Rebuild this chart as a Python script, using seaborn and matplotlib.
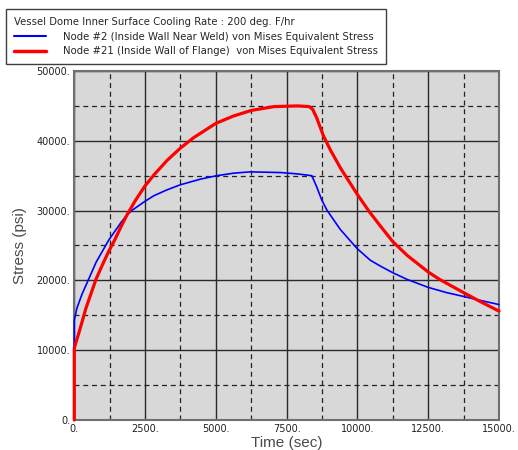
import matplotlib
matplotlib.use("Agg")
import matplotlib.pyplot as plt
from matplotlib.ticker import MultipleLocator, FuncFormatter
import seaborn as sns
import pandas as pd

# ---- data ----
title_text = "Vessel Dome Inner Surface Cooling Rate : 200 deg. F/hr"
series_names = ["Node #2 (Inside Wall Near Weld) von Mises Equivalent Stress",
                "Node #21 (Inside Wall of Flange)  von Mises Equivalent Stress"]

blue_time = [0, 0, 90, 270, 510, 770, 1220, 1650, 1871, 2060, 2492, 2809, 3278,
             3746, 4450, 5000, 5622, 6208, 7287, 7877, 8390, 8560, 8740, 8920,
             9390, 9980, 10450, 10818, 11250, 11750, 12500, 13150, 13750, 14322,
             15000]
blue_stress = [10300, 14300, 16000, 18000, 20200, 22600, 25800, 28300, 29420,
               30100, 31320, 32130, 32980, 33700, 34500, 34980, 35360, 35550,
               35450, 35260, 35000, 33420, 31520, 30090, 27320, 24600, 22900,
               22030, 21100, 20150, 19000, 18250, 17700, 17150, 16540]

red_time = [0, 0, 210, 410, 770, 1000, 1220, 1440, 1650, 1850, 2164, 2492, 2809,
            3278, 3746, 4215, 5000, 5622, 6250, 7052, 7877, 8300, 8420, 8560,
            8800, 9056, 9416, 10000, 10409, 10818, 11250, 11752, 12500, 12920,
            13750, 14322, 15000]
red_stress = [0, 10300, 13150, 16000, 20200, 22300, 24200, 25900, 27700, 29300,
              31500, 33500, 35100, 37200, 38950, 40450, 42500, 43550, 44350,
              44900, 45000, 44900, 44500, 43300, 40700, 38600, 36000, 32300,
              29900, 27750, 25550, 23600, 21200, 20100, 18250, 17000, 15600]

x_label = "Time (sec)"
y_label = "Stress (psi)"

df = pd.concat([
    pd.DataFrame({"Time": blue_time, "Stress": blue_stress, "Series": series_names[0]}),
    pd.DataFrame({"Time": red_time, "Stress": red_stress, "Series": series_names[1]}),
], ignore_index=True)

sns.set_theme(style="white")
plt.rcParams["font.family"] = ["DejaVu Sans"]

fig = plt.figure(figsize=(5.18, 4.5), dpi=100)
ax = fig.add_axes([74.3 / 518, 1 - 420 / 450, (499 - 74.3) / 518, (420 - 71) / 450])
ax.set_facecolor("#d8d8d8")

sns.lineplot(data=df, x="Time", y="Stress", hue="Series", sort=False,
             estimator=None, palette=["#0000ff", "#ff0000"], ax=ax, legend=True)
for ln, lw in zip(ax.lines, [1.2, 2.3]):
    ln.set_linewidth(lw)
    ln.set_clip_on(False)
    ln.set_zorder(5)
    ln.set_solid_joinstyle("round")

ax.set_xlim(0, 15000)
ax.set_ylim(0, 50000)
ax.xaxis.set_major_locator(MultipleLocator(2500))
ax.xaxis.set_minor_locator(MultipleLocator(1250))
ax.yaxis.set_major_locator(MultipleLocator(10000))
ax.yaxis.set_minor_locator(MultipleLocator(5000))
fmt = FuncFormatter(lambda v, p: f"{int(round(v))}.")
ax.xaxis.set_major_formatter(fmt)
ax.yaxis.set_major_formatter(fmt)

ax.grid(which="major", color="#2a2a2a", linestyle="-", linewidth=1.0)
ax.grid(which="minor", color="#222222", linestyle=(0, (4, 3)), linewidth=0.9)
ax.set_axisbelow(True)
ax.tick_params(which="both", length=0, labelsize=7, colors="#222222", pad=3)

for s in ax.spines.values():
    s.set_visible(True)
    s.set_color("#707070")
    s.set_linewidth(1.5)

lab_font = dict(family="Liberation Sans", size=11, color="#4a4a4a")
ax.set_xlabel(x_label, labelpad=1, **lab_font)
ax.set_ylabel(y_label, labelpad=7, **lab_font)

handles, labels = ax.get_legend_handles_labels()
ax.get_legend().remove()
leg = fig.legend(handles, labels, title=title_text, loc="upper left",
                 bbox_to_anchor=(6 / 518, 1 - 9 / 450), bbox_transform=fig.transFigure,
                 fontsize=7.3, title_fontsize=7.3, alignment="left", fancybox=False,
                 frameon=True, edgecolor="#404040", framealpha=1, borderpad=0.8,
                 handlelength=3.15, handletextpad=1.7, labelspacing=0.45,
                 borderaxespad=0)
leg.get_frame().set_linewidth(1.0)
for lh, lw in zip(leg.get_lines(), [1.5, 2.5]):
    lh.set_linewidth(lw)

fig.savefig("out.png", dpi=100, facecolor="white")
